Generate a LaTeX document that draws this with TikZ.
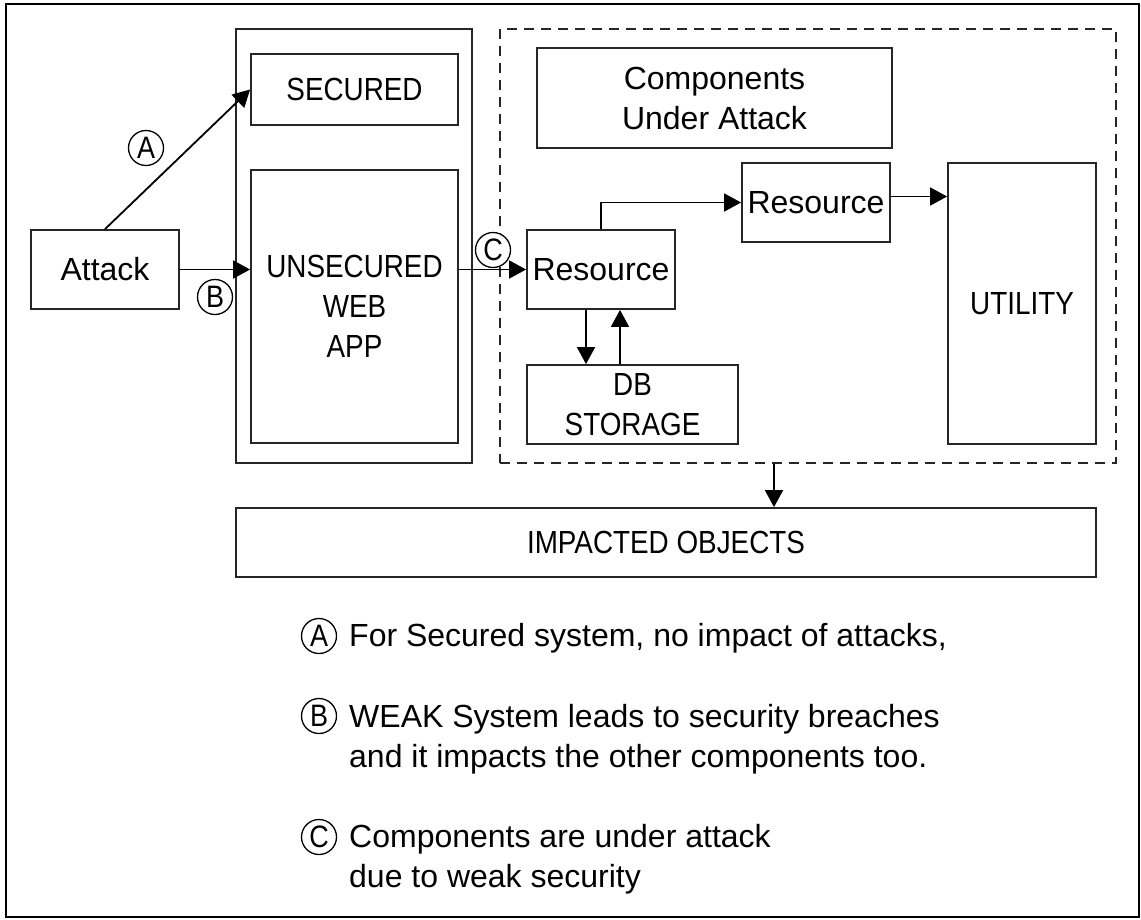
\documentclass[tikz,border=0pt]{standalone}
\usepackage{fontspec}
\setmainfont{Liberation Sans}
\newfontfamily\capfont[FakeStretch=0.87]{Liberation Sans}
\usetikzlibrary{arrows.meta}
\begin{document}
\begin{tikzpicture}[x=1pt,y=-1pt,
  box/.style={draw=black!85, line width=1.8pt, inner sep=0pt, align=center, font=\fontsize{32}{40}\selectfont},
  capbox/.style={box, font=\capfont\fontsize{32}{40}\selectfont},
  dashbox/.style={draw=black!85, line width=1.5pt, dash pattern=on 10pt off 7pt, inner sep=0pt},
  arr/.style={line width=1.8pt, -{Triangle[length=17pt,width=18pt]}},
  lbl/.style={circle, draw, fill=white, line width=1.3pt, minimum size=35pt, inner sep=0pt, font=\capfont\fontsize{31}{31}\selectfont},
  legend/.style={inner sep=0pt, anchor=base west, align=left, font=\fontsize{32}{40}\selectfont}]
\useasboundingbox (0,0) rectangle (1141,919);
\draw[line width=2.2pt] (6,4) rectangle (1139,917);

% left part
\node[box, minimum width=148pt, minimum height=79pt] (attack) at (105,269.5) {Attack};
\node[box, minimum width=236pt, minimum height=434pt] (cont) at (354,246) {};
\node[capbox, minimum width=207pt, minimum height=71pt] (secured) at (354.5,89.5) {SECURED};
\node[capbox, minimum width=207pt, minimum height=273pt] (unsec) at (354.5,306.5) {UNSECURED\\WEB\\APP};

% right part
\node[dashbox, minimum width=616pt, minimum height=434pt] (dash) at (808,246) {};
\node[box, minimum width=355pt, minimum height=100pt] (comp) at (714.5,98) {Components\\Under Attack};
\node[box, minimum width=148pt, minimum height=79pt] (res2) at (816,202.5) {Resource};
\node[box, minimum width=148pt, minimum height=79pt] (res1) at (601,269.5) {Resource};
\node[capbox, minimum width=211pt, minimum height=79pt] (db) at (632.5,404.5) {DB\\STORAGE};
\node[capbox, minimum width=148pt, minimum height=281pt] (util) at (1022,303.5) {UTILITY};
\node[capbox, minimum width=860pt, minimum height=69pt] (impact) at (666,542.5) {IMPACTED OBJECTS};

% connectors
\draw[arr] (attack.north) -- (secured.west);
\draw[arr] (attack.east) -- (attack.east -| unsec.west);
\draw[arr] (unsec.east |- res1.west) -- (res1.west);
\draw[arr] (res1.north) |- (res2.west);
\draw[arr] ([yshift=6pt]res2.east) -- ([yshift=6pt]res2.east -| util.west);
\draw[arr] ([xshift=-15pt]res1.south) -- ([xshift=-15pt]res1.south |- db.north);
\draw[arr] ([xshift=19pt]res1.south |- db.north) -- ([xshift=19pt]res1.south);
\draw[arr] ([xshift=-34pt]dash.south) -- ([xshift=-34pt]dash.south |- impact.north);

% connector labels
\node[lbl] (la1) at (146,148) {A};
\node[lbl] (lb1) at (215,297) {B};
\node[lbl] (lc1) at (493,250) {C};

% legend
\node[lbl] (la) at (319,636) {A};
\node[legend] (ta) at (349,646) {For Secured system, no impact of attacks,};
\node[lbl] (lb) at (319,716) {B};
\node[legend] (tb) at (349,767) {WEAK System leads to security breaches\\and it impacts the other components too.};
\node[lbl] (lc) at (319,837) {C};
\node[legend] (tc) at (349,887) {Components are under attack\\due to weak security};
\end{tikzpicture}
\end{document}
